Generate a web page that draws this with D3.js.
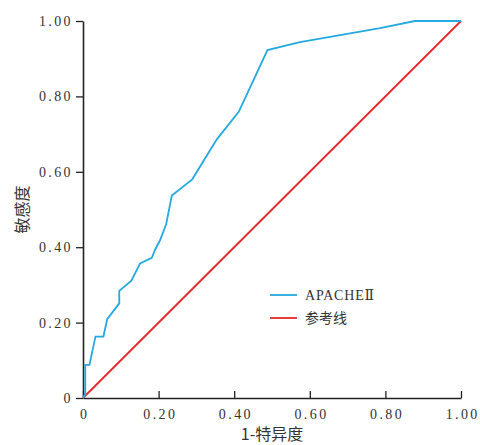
<!DOCTYPE html>
<html>
<head>
<meta charset="utf-8">
<script src="https://cdn.jsdelivr.net/npm/d3@7"></script>
<style>
  body { margin: 0; background: #fff; }
  svg text { fill: #333; }
</style>
</head>
<body>
<svg id="chart" width="480" height="445"></svg>
<script>
// ROC curve points (1 - specificity, sensitivity)
const fpr = [0, 0.006, 0.006, 0.017, 0.033, 0.054, 0.064, 0.096, 0.096, 0.128, 0.151, 0.182,
  0.191, 0.204, 0.220, 0.235, 0.289, 0.354, 0.412, 0.488, 0.574, 0.786, 0.878, 1];
const tpr = [0, 0.01, 0.088, 0.088, 0.163, 0.163, 0.209, 0.251, 0.284, 0.311, 0.357, 0.372,
  0.394, 0.419, 0.461, 0.537, 0.580, 0.686, 0.759, 0.923, 0.944, 0.981, 1, 1];
const refLine = [0, 1];
const ticks = [0, 0.2, 0.4, 0.6, 0.8, 1];
const tickLabels = ["0", "0.20", "0.40", "0.60", "0.80", "1.00"];
const seriesNames = ["APACHEⅡ", "参考线"];
const colors = ["#25a9e0", "#e5262a"];

const svg = d3.select("#chart");
const margin = {top: 21, left: 83, right: 19, bottom: 47};
const width = 480, height = 445;

const x = d3.scaleLinear().domain([0, 1]).range([margin.left, width - margin.right]);
const y = d3.scaleLinear().domain([0, 1]).range([height - margin.bottom, margin.top]);

const serif = "'Liberation Serif', 'DejaVu Serif', serif";
const cjk = "'Noto Sans CJK SC', sans-serif";

// x axis, ticks pointing up into the plot
const xAxis = svg.append("g")
  .attr("transform", `translate(0,${y(0)})`)
  .call(d3.axisBottom(x).tickValues(ticks).tickSizeInner(-7).tickSizeOuter(0)
    .tickFormat((d, i) => tickLabels[i]));
xAxis.attr("font-family", null);
xAxis.select(".domain").attr("stroke", "#222").attr("stroke-width", 1.6);
xAxis.selectAll(".tick line").attr("stroke", "#222").attr("stroke-width", 1.3);
xAxis.selectAll(".tick text")
  .attr("y", 11)
  .attr("dx", "1.2px")
  .style("font-family", serif)
  .style("font-size", "14px")
  .style("letter-spacing", "2.4px")
  .attr("fill", "#333");

// y axis, ticks pointing out
const yAxis = svg.append("g")
  .attr("transform", `translate(${x(0)},0)`)
  .call(d3.axisLeft(y).tickValues(ticks).tickSizeInner(7).tickSizeOuter(0)
    .tickFormat((d, i) => tickLabels[i]));
yAxis.attr("font-family", null);
yAxis.select(".domain").attr("stroke", "#222").attr("stroke-width", 1.6);
yAxis.selectAll(".tick line").attr("stroke", "#222").attr("stroke-width", 1.3);
yAxis.selectAll(".tick text")
  .attr("x", -10)
  .style("font-family", serif)
  .style("font-size", "14px")
  .style("letter-spacing", "2.4px")
  .attr("fill", "#333");

// reference diagonal
const line = d3.line().x(d => x(d[0])).y(d => y(d[1]));
svg.append("path")
  .attr("d", line(refLine.map(v => [v, v])))
  .attr("fill", "none")
  .attr("stroke", colors[1])
  .attr("stroke-width", 1.8);

// ROC curve
svg.append("path")
  .attr("d", line(fpr.map((v, i) => [v, tpr[i]])))
  .attr("fill", "none")
  .attr("stroke", colors[0])
  .attr("stroke-width", 1.8)
  .attr("stroke-linejoin", "miter");

// axis titles
svg.append("text")
  .attr("x", (x(0) + x(1)) / 2)
  .attr("y", 440)
  .attr("text-anchor", "middle")
  .style("font-family", cjk)
  .style("font-size", "16px")
  .text("1-特异度");

svg.append("text")
  .attr("transform", `translate(28,${(y(0) + y(1)) / 2}) rotate(-90)`)
  .attr("text-anchor", "middle")
  .style("font-family", cjk)
  .style("font-size", "16px")
  .text("敏感度");

// legend
const legend = svg.append("g").attr("transform", "translate(270,295)");
seriesNames.forEach((name, i) => {
  const g = legend.append("g").attr("transform", `translate(0,${i * 23})`);
  g.append("line")
    .attr("x1", 0).attr("x2", 27)
    .attr("stroke", colors[i]).attr("stroke-width", 1.8);
  g.append("text")
    .attr("x", 35).attr("y", 5)
    .style("font-family", i === 0 ? serif : cjk)
    .style("font-size", "14px")
    .style("letter-spacing", i === 0 ? "0.8px" : "0px")
    .attr("fill", "#444")
    .text(name);
});
</script>
</body>
</html>
